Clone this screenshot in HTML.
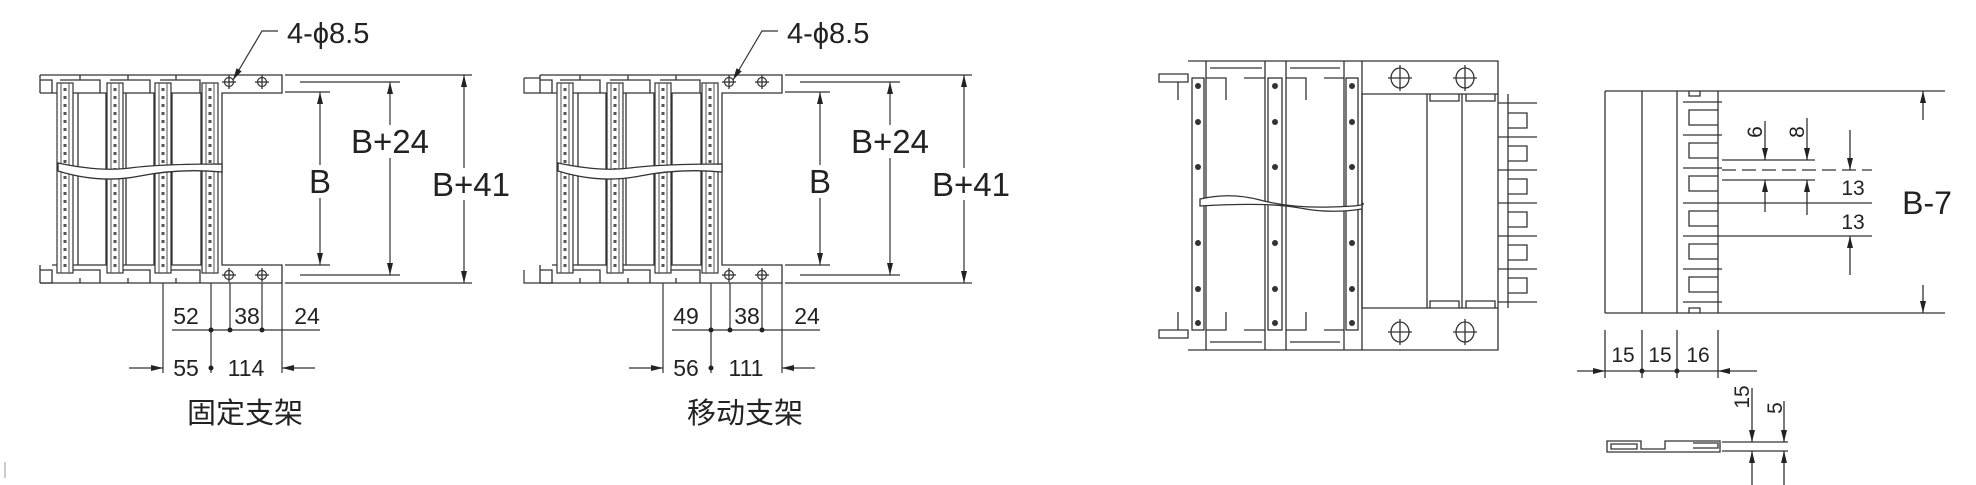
<!DOCTYPE html>
<html><head><meta charset="utf-8"><style>
html,body{margin:0;padding:0;background:#fff;}
svg{display:block;}
text{font-family:"Liberation Sans","Noto Sans CJK SC",sans-serif;fill:#222;}
</style></head><body>
<svg width="1976" height="485" viewBox="0 0 1976 485" xmlns="http://www.w3.org/2000/svg">
<defs>
<marker id="ar" viewBox="0 0 10 10" refX="10" refY="5" markerWidth="12" markerHeight="12" orient="auto-start-reverse" markerUnits="userSpaceOnUse"><path d="M0 2.5 L10 5 L0 7.5 z" fill="#222"/></marker>
<g id="plate">
<rect x="0" y="83" width="16" height="190" fill="#fff" stroke="#333" stroke-width="1.2"/>
<line x1="4" y1="83" x2="4" y2="273" stroke="#555" stroke-width="1"/>
<line x1="12" y1="83" x2="12" y2="273" stroke="#555" stroke-width="1"/>
<line x1="8" y1="88" x2="8" y2="270" stroke="#555" stroke-width="3" stroke-dasharray="3 5"/>
</g>
<g id="hole"><circle r="4.5" fill="none" stroke="#333" stroke-width="1.2"/><line x1="-7" y1="0" x2="7" y2="0" stroke="#333"/><line x1="0" y1="-7" x2="0" y2="7" stroke="#333"/></g>
<g id="chain" fill="none" stroke="#333" stroke-width="1.3">
<path d="M40 75 H282 V93 H222 V265 H282 V283 H40"/>
<path d="M40 75 V93 M40 265 V283"/>
<path d="M40 80 H52 V93 H40 M40 270 H52 V283 H40"/>
<path d="M52 93 H218 M52 265 H218"/>
<path d="M60 80 H100 V93 M110 80 H150 V93 M160 80 H200 V93 M60 270 H100 V283 M110 270 H150 V283 M160 270 H200 V283"/>
<path d="M80 75 V80 M128 75 V80 M176 75 V80 M80 278 V283 M128 278 V283 M176 278 V283"/>
<path d="M78 93 V265 M106 93 V265 M126 93 V265 M154 93 V265 M172 93 V265 M201 93 V265"/>
<use href="#plate" x="57"/><use href="#plate" x="107"/><use href="#plate" x="155"/><use href="#plate" x="202"/>
<path d="M58 163 Q100 172 130 168 T222 164 L222 172 Q180 168 140 176 T58 171 Z" fill="#fff" stroke="#333"/>
<use href="#hole" x="229" y="82"/><use href="#hole" x="262" y="82"/><use href="#hole" x="229" y="275"/><use href="#hole" x="262" y="275"/>
</g>
</defs>

<g stroke="#333" stroke-width="1.2" fill="none">
<use href="#chain"/>
<path d="M285 75 H472 M285 283 H472 M285 92 H330 M285 265 H330 M300 82 H400 M300 275 H400"/>
<line x1="320" y1="92" x2="320" y2="165" marker-start="url(#ar)"/><line x1="320" y1="198" x2="320" y2="265" marker-end="url(#ar)"/>
<line x1="390" y1="82" x2="390" y2="125" marker-start="url(#ar)"/><line x1="390" y1="158" x2="390" y2="275" marker-end="url(#ar)"/>
<line x1="464" y1="75" x2="464" y2="168" marker-start="url(#ar)"/><line x1="464" y1="200" x2="464" y2="283" marker-end="url(#ar)"/>
<path d="M233 80 L262 31 H278" marker-start="url(#ar)"/>
<path d="M163 283 V373 M211 283 V373 M230 283 V332 M262 283 V332 M282 283 V373"/>
<line x1="172" y1="330" x2="320" y2="330"/>
<line x1="129" y1="368" x2="163" y2="368" marker-end="url(#ar)"/>
<line x1="315" y1="368" x2="282" y2="368" marker-end="url(#ar)"/>
</g>
<g fill="#222"><circle cx="211" cy="330" r="2.5"/><circle cx="230" cy="330" r="2.5"/><circle cx="262" cy="330" r="2.5"/><circle cx="211" cy="368" r="2.5"/></g>
<text x="287" y="43" font-size="29">4-ϕ8.5</text>
<text x="320" y="193" font-size="33" text-anchor="middle">B</text>
<text x="390" y="153" font-size="33" text-anchor="middle">B+24</text>
<text x="471" y="196" font-size="33" text-anchor="middle">B+41</text>
<g font-size="23" text-anchor="middle"><text x="186" y="324">52</text><text x="247" y="324">38</text><text x="307" y="324">24</text><text x="186" y="376">55</text><text x="246" y="376">114</text></g>
<text x="245" y="423" font-size="29" text-anchor="middle">固定支架</text>
<line x1="5" y1="462" x2="5" y2="478" stroke="#999"/>

<g transform="translate(500,0)" stroke="#333" stroke-width="1.2" fill="none">
<use href="#chain"/>
<path d="M24 78 H40 M24 78 V93 H40 M24 270 V283 H40"/>
<path d="M285 75 H472 M285 283 H472 M285 92 H330 M285 265 H330 M300 82 H400 M300 275 H400"/>
<line x1="320" y1="92" x2="320" y2="165" marker-start="url(#ar)"/><line x1="320" y1="198" x2="320" y2="265" marker-end="url(#ar)"/>
<line x1="390" y1="82" x2="390" y2="125" marker-start="url(#ar)"/><line x1="390" y1="158" x2="390" y2="275" marker-end="url(#ar)"/>
<line x1="464" y1="75" x2="464" y2="168" marker-start="url(#ar)"/><line x1="464" y1="200" x2="464" y2="283" marker-end="url(#ar)"/>
<path d="M233 80 L262 31 H278" marker-start="url(#ar)"/>
<path d="M163 283 V373 M211 283 V373 M230 283 V332 M262 283 V332 M282 283 V373"/>
<line x1="172" y1="330" x2="320" y2="330"/>
<line x1="129" y1="368" x2="163" y2="368" marker-end="url(#ar)"/>
<line x1="315" y1="368" x2="282" y2="368" marker-end="url(#ar)"/>
</g>
<g fill="#222" transform="translate(500,0)"><circle cx="211" cy="330" r="2.5"/><circle cx="230" cy="330" r="2.5"/><circle cx="262" cy="330" r="2.5"/><circle cx="211" cy="368" r="2.5"/></g>
<g transform="translate(500,0)">
<text x="287" y="43" font-size="29">4-ϕ8.5</text>
<text x="320" y="193" font-size="33" text-anchor="middle">B</text>
<text x="390" y="153" font-size="33" text-anchor="middle">B+24</text>
<text x="471" y="196" font-size="33" text-anchor="middle">B+41</text>
<g font-size="23" text-anchor="middle"><text x="186" y="324">49</text><text x="247" y="324">38</text><text x="307" y="324">24</text><text x="186" y="376">56</text><text x="246" y="376">111</text></g>
<text x="245" y="423" font-size="29" text-anchor="middle">移动支架</text>
</g>

<g stroke="#333" stroke-width="1.3" fill="none">
<path d="M1188 61 H1498 V94 H1362 V308 H1498 V350 H1188"/>
<path d="M1159 74 H1188 V82 H1159 Z M1159 330 H1188 V338 H1159 Z"/>
<path d="M1178 82 V100 M1178 312 V330"/>
<path d="M1206 61 V350 M1265 61 V350 M1286 61 V350 M1344 61 V350 M1362 61 V350"/>
<path d="M1210 68 H1262 M1290 68 H1340 M1210 342 H1262 M1290 342 H1340"/>
<path d="M1206 78 H1226 V100 M1244 78 H1265 M1286 78 H1306 V100 M1324 78 H1344 M1206 330 H1226 V312 M1244 330 H1265 M1286 330 H1306 V312 M1324 330 H1344"/>
<rect x="1192" y="78" width="12" height="252" fill="#fff"/>
<rect x="1268" y="78" width="14" height="252" fill="#fff"/>
<rect x="1346" y="78" width="12" height="252" fill="#fff"/>
<path d="M1427 94 V308 M1462 94 V308 M1430 94 V101 H1459 V94 M1466 94 V101 H1495 V94 M1430 308 V301 H1459 V308 M1466 308 V301 H1495 V308"/>
<path d="M1498 94 V308 M1508 94 V308"/>
<path d="M1498 103 H1537 M1498 137 H1537 M1498 170 H1537 M1498 203 H1537 M1498 236 H1537 M1498 269 H1537 M1498 302 H1537"/>
<path d="M1508 113 H1527 V128 H1508 M1508 146 H1527 V161 H1508 M1508 179 H1527 V194 H1508 M1508 212 H1527 V227 H1508 M1508 245 H1527 V260 H1508 M1508 278 H1527 V293 H1508"/>
<path d="M1200 199 Q1230 192 1260 200 T1330 207 T1362 203 L1362 209 Q1330 214 1300 208 T1200 206 Z" fill="#fff"/>
<ellipse cx="1400" cy="78" rx="9" ry="10"/><path d="M1388 78 H1412 M1400 65 V91"/>
<ellipse cx="1465" cy="78" rx="9" ry="10"/><path d="M1453 78 H1477 M1465 65 V91"/>
<ellipse cx="1400" cy="332" rx="9" ry="10"/><path d="M1388 332 H1412 M1400 319 V345"/>
<ellipse cx="1465" cy="332" rx="9" ry="10"/><path d="M1453 332 H1477 M1465 319 V345"/>
</g>
<g fill="#333">
<circle cx="1198" cy="86" r="3"/><circle cx="1198" cy="122" r="3"/><circle cx="1198" cy="167" r="3"/><circle cx="1198" cy="243" r="3"/><circle cx="1198" cy="289" r="3"/><circle cx="1198" cy="323" r="3"/>
<circle cx="1275" cy="86" r="3"/><circle cx="1275" cy="122" r="3"/><circle cx="1275" cy="167" r="3"/><circle cx="1275" cy="243" r="3"/><circle cx="1275" cy="289" r="3"/><circle cx="1275" cy="323" r="3"/>
<circle cx="1352" cy="86" r="3"/><circle cx="1352" cy="122" r="3"/><circle cx="1352" cy="167" r="3"/><circle cx="1352" cy="243" r="3"/><circle cx="1352" cy="289" r="3"/><circle cx="1352" cy="323" r="3"/>
</g>

<g stroke="#333" stroke-width="1.3" fill="none">
<path d="M1605 91 H1945 M1605 313 H1945 M1605 91 V313 M1642 91 V313 M1677 91 V313 M1718 91 V313"/>
<path d="M1683 102 H1722 M1683 135 H1722 M1683 168 H1722 M1683 203 H1722 M1683 236 H1722 M1683 269 H1722 M1683 302 H1722"/>
<path d="M1718 110 H1689 V125 H1718 M1718 143 H1689 V158 H1718 M1718 176 H1689 V191 H1718 M1718 211 H1689 V226 H1718 M1718 244 H1689 V259 H1718 M1718 277 H1689 V292 H1718 M1689 91 V96 H1700 V91 M1689 313 V308 H1700 V313"/>
<line x1="1923" y1="120" x2="1923" y2="91" marker-end="url(#ar)"/>
<line x1="1923" y1="285" x2="1923" y2="313" marker-end="url(#ar)"/>
<path d="M1722 160 H1815"/>
<path d="M1722 170 H1872" stroke-dasharray="14 6"/>
<path d="M1722 180 H1815 M1722 203 H1872 M1722 236 H1872"/>
<line x1="1765" y1="121" x2="1765" y2="160" marker-end="url(#ar)"/><line x1="1765" y1="212" x2="1765" y2="180" marker-end="url(#ar)"/>
<line x1="1807" y1="118" x2="1807" y2="160" marker-end="url(#ar)"/><line x1="1807" y1="215" x2="1807" y2="180" marker-end="url(#ar)"/>
<line x1="1850" y1="130" x2="1850" y2="170" marker-end="url(#ar)"/><line x1="1850" y1="275" x2="1850" y2="236" marker-end="url(#ar)"/>
<path d="M1605 330 V378 M1642 330 V378 M1677 330 V378 M1718 330 V378"/>
<line x1="1577" y1="371" x2="1605" y2="371" marker-end="url(#ar)"/>
<line x1="1757" y1="371" x2="1718" y2="371" marker-end="url(#ar)"/>
<line x1="1605" y1="371" x2="1718" y2="371"/>
<path d="M1607 441 H1641 V449 H1665 V441 H1692 V441 H1720 V452 H1607 Z M1611 444 H1637 V449 H1611 Z M1693 443 H1718 V448 H1693"/>
<path d="M1722 442 H1788 M1722 451 H1788"/>
<line x1="1752" y1="388" x2="1752" y2="442" marker-end="url(#ar)"/><line x1="1752" y1="485" x2="1752" y2="451" marker-end="url(#ar)"/>
<line x1="1784" y1="401" x2="1784" y2="442" marker-end="url(#ar)"/><line x1="1784" y1="485" x2="1784" y2="451" marker-end="url(#ar)"/>
</g>
<g fill="#222"><circle cx="1642" cy="371" r="2.5"/><circle cx="1677" cy="371" r="2.5"/></g>
<text x="1927" y="214" font-size="32" text-anchor="middle">B-7</text>
<g font-size="21" text-anchor="middle">
<text x="1853" y="195">13</text><text x="1853" y="229">13</text>
<text x="1623" y="362">15</text><text x="1660" y="362">15</text><text x="1698" y="362">16</text>
<text transform="translate(1762,132) rotate(-90)">6</text>
<text transform="translate(1804,132) rotate(-90)">8</text>
<text transform="translate(1749,397) rotate(-90)">15</text>
<text transform="translate(1782,408) rotate(-90)">5</text>
</g>
</svg>
</body></html>
